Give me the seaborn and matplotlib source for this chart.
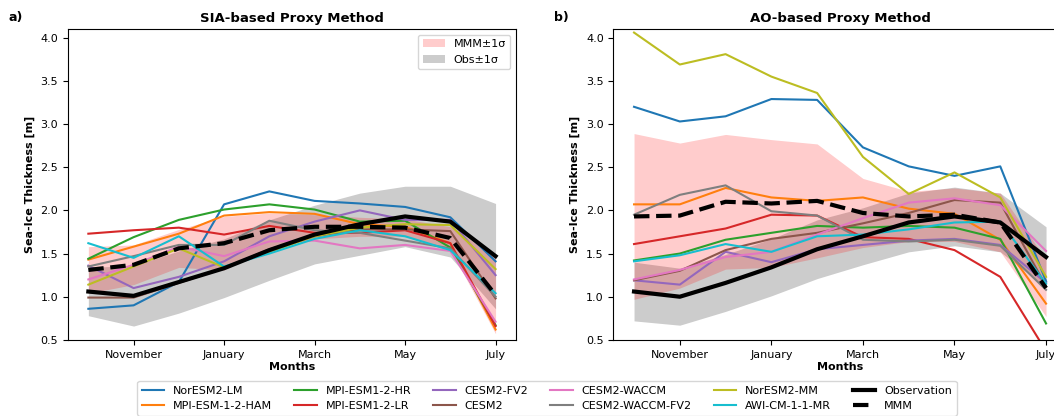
import numpy as np
import pandas as pd
import matplotlib
matplotlib.use("Agg")
import matplotlib.pyplot as plt
from matplotlib.lines import Line2D
from matplotlib.patches import Patch
import seaborn as sns

# months Oct..Jul, ticks only every second month
month_idx = list(range(10))
tick_idx = [1, 3, 5, 7, 9]
tick_labels = ["November", "January", "March", "May", "July"]

models = ["NorESM2-LM", "MPI-ESM-1-2-HAM", "MPI-ESM1-2-HR", "MPI-ESM1-2-LR", "CESM2-FV2",
          "CESM2", "CESM2-WACCM", "CESM2-WACCM-FV2", "NorESM2-MM", "AWI-CM-1-1-MR"]

# panel a) SIA-based proxy
sia_models = {
    "NorESM2-LM":      [0.86, 0.90, 1.17, 2.07, 2.22, 2.11, 2.08, 2.04, 1.92, 1.41],
    "MPI-ESM-1-2-HAM": [1.43, 1.58, 1.73, 1.94, 1.98, 1.96, 1.84, 1.81, 1.62, 0.62],
    "MPI-ESM1-2-HR":   [1.44, 1.69, 1.89, 2.01, 2.07, 2.01, 1.87, 1.88, 1.57, 0.67],
    "MPI-ESM1-2-LR":   [1.73, 1.77, 1.80, 1.72, 1.82, 1.74, 1.74, 1.77, 1.62, 0.66],
    "CESM2-FV2":       [1.36, 1.10, 1.23, 1.41, 1.70, 1.87, 2.00, 1.89, 1.89, 1.25],
    "CESM2":           [0.99, 0.99, 1.16, 1.33, 1.55, 1.70, 1.78, 1.78, 1.76, 0.98],
    "CESM2-WACCM":     [1.20, 1.37, 1.58, 1.47, 1.64, 1.65, 1.56, 1.60, 1.53, 0.71],
    "CESM2-WACCM-FV2": [1.35, 1.47, 1.60, 1.60, 1.88, 1.77, 1.74, 1.65, 1.56, 1.00],
    "NorESM2-MM":      [1.14, 1.35, 1.56, 1.34, 1.52, 1.70, 1.80, 1.84, 1.83, 1.32],
    "AWI-CM-1-1-MR":   [1.62, 1.45, 1.70, 1.35, 1.50, 1.67, 1.77, 1.70, 1.54, 1.04],
}
sia_obs = [1.06, 1.01, 1.17, 1.33, 1.54, 1.72, 1.84, 1.93, 1.87, 1.47]
sia_obs_std = [0.28, 0.35, 0.36, 0.34, 0.35, 0.34, 0.36, 0.35, 0.41, 0.61]
sia_mmm = [1.31, 1.37, 1.56, 1.62, 1.77, 1.81, 1.81, 1.80, 1.68, 1.02]
sia_mmm_std = [0.27, 0.23, 0.22, 0.31, 0.20, 0.14, 0.11, 0.10, 0.13, 0.45]

# panel b) AO-based proxy
ao_models = {
    "NorESM2-LM":      [3.20, 3.03, 3.09, 3.29, 3.28, 2.73, 2.51, 2.40, 2.51, 1.18],
    "MPI-ESM-1-2-HAM": [2.07, 2.07, 2.26, 2.15, 2.11, 2.15, 2.02, 1.96, 1.66, 0.92],
    "MPI-ESM1-2-HR":   [1.42, 1.50, 1.66, 1.74, 1.82, 1.80, 1.82, 1.80, 1.67, 0.69],
    "MPI-ESM1-2-LR":   [1.61, 1.70, 1.79, 1.95, 1.94, 1.69, 1.67, 1.54, 1.23, 0.37],
    "CESM2-FV2":       [1.19, 1.14, 1.52, 1.40, 1.55, 1.60, 1.65, 1.67, 1.60, 1.16],
    "CESM2":           [1.19, 1.30, 1.54, 1.67, 1.74, 1.85, 1.97, 2.12, 2.09, 1.12],
    "CESM2-WACCM":     [1.20, 1.31, 1.46, 1.52, 1.72, 1.91, 2.09, 2.14, 2.06, 1.53],
    "CESM2-WACCM-FV2": [1.95, 2.18, 2.29, 1.99, 1.94, 1.66, 1.64, 1.66, 1.59, 1.08],
    "NorESM2-MM":      [4.06, 3.69, 3.81, 3.55, 3.36, 2.62, 2.19, 2.44, 2.15, 1.23],
    "AWI-CM-1-1-MR":   [1.41, 1.48, 1.61, 1.52, 1.70, 1.72, 1.78, 1.86, 1.87, 1.15],
}
ao_obs = [1.06, 1.00, 1.16, 1.34, 1.55, 1.70, 1.86, 1.93, 1.86, 1.46]
ao_obs_std = [0.34, 0.33, 0.33, 0.33, 0.34, 0.33, 0.34, 0.34, 0.34, 0.35]
ao_mmm = [1.93, 1.94, 2.10, 2.08, 2.11, 1.97, 1.93, 1.95, 1.86, 1.10]
ao_mmm_std = [0.96, 0.84, 0.78, 0.74, 0.66, 0.40, 0.29, 0.31, 0.34, 0.33]

colors = sns.color_palette("tab10", 10)

fig = plt.figure(figsize=(10.54, 4.16), dpi=100)
# right panel runs past the figure edge, like the cropped original
ax1 = fig.add_axes([0.0645, 0.183, 0.425, 0.747])
ax2 = fig.add_axes([0.582, 0.183, 0.43, 0.747])


def draw_panel(ax, model_dict, obs, obs_std, mmm, mmm_std, title, letter):
    obs = np.array(obs)
    obs_std = np.array(obs_std)
    mmm = np.array(mmm)
    mmm_std = np.array(mmm_std)
    ax.fill_between(month_idx, obs - obs_std, obs + obs_std, color="gray", alpha=0.4, lw=0)
    ax.fill_between(month_idx, mmm - mmm_std, mmm + mmm_std, color="red", alpha=0.2, lw=0)

    long_df = pd.DataFrame([
        {"month": m, "sit": v, "model": name}
        for name in models for m, v in zip(month_idx, model_dict[name])
    ])
    sns.lineplot(data=long_df, x="month", y="sit", hue="model", hue_order=models,
                 palette=colors, lw=1.5, legend=False, ax=ax)
    sns.lineplot(x=month_idx, y=obs, color="black", lw=3, ax=ax)
    sns.lineplot(x=month_idx, y=mmm, color="black", lw=3, ls="--", ax=ax)

    ax.set_xlim(-0.45, 9.45)
    ax.set_ylim(0.5, 4.1)
    ax.set_xticks(tick_idx)
    ax.set_xticklabels(tick_labels)
    ax.tick_params(labelsize=8)
    ax.set_xlabel("Months", fontsize=8, fontweight="bold", labelpad=2)
    ax.set_ylabel("Sea-Ice Thickness [m]", fontsize=8, fontweight="bold")
    ax.set_title(title, fontsize=9.5, fontweight="bold", pad=5)
    ax.text(-0.132, 1.025, letter, transform=ax.transAxes, fontsize=9, fontweight="bold")


draw_panel(ax1, sia_models, sia_obs, sia_obs_std, sia_mmm, sia_mmm_std,
           "SIA-based Proxy Method", "a)")
draw_panel(ax2, ao_models, ao_obs, ao_obs_std, ao_mmm, ao_mmm_std,
           "AO-based Proxy Method", "b)")

band_handles = [Patch(color="red", alpha=0.2, lw=0, label="MMM\u00b11\u03c3"),
                Patch(color="gray", alpha=0.4, lw=0, label="Obs\u00b11\u03c3")]
ax1.legend(handles=band_handles, loc="upper right", fontsize=8)

line_handles = [Line2D([], [], color=colors[i], lw=1.5, label=name) for i, name in enumerate(models)]
line_handles += [Line2D([], [], color="black", lw=3, label="Observation"),
                 Line2D([], [], color="black", lw=3, ls="--", label="MMM")]
fig.legend(handles=line_handles, loc="upper center", bbox_to_anchor=(0.519, 0.097),
           ncol=6, fontsize=8, frameon=True)

fig.savefig("out.png", dpi=100)
